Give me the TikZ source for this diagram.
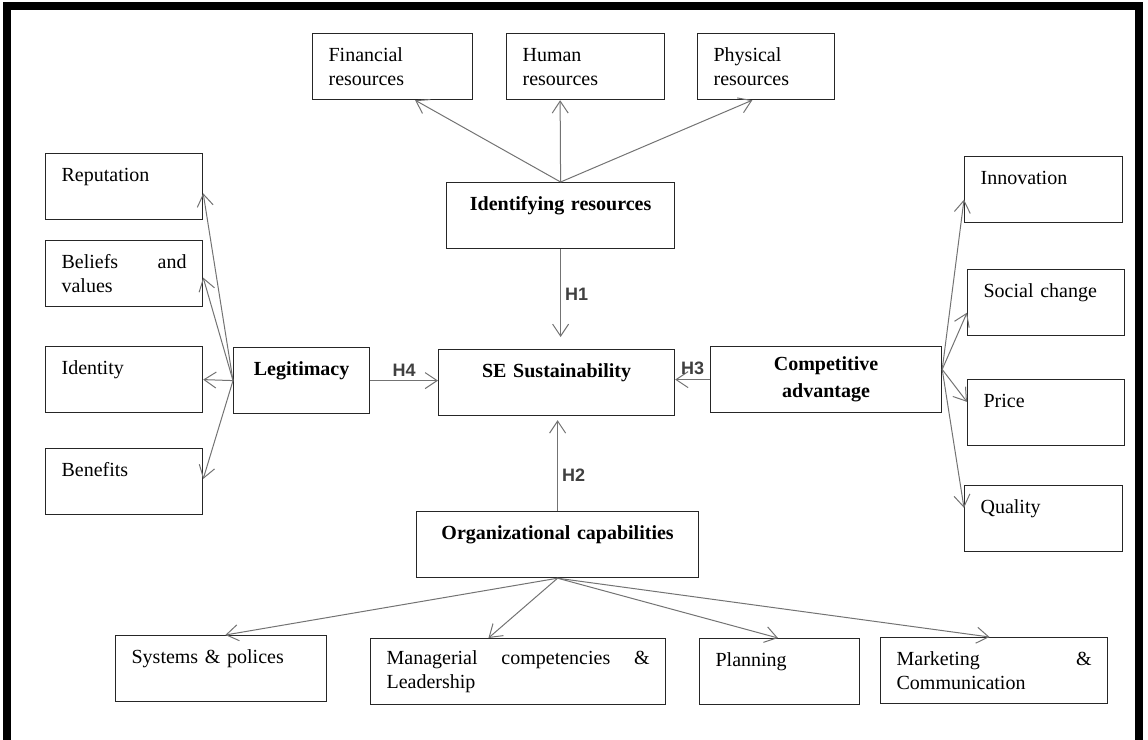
\documentclass[tikz,border=0pt]{standalone}
\usepackage{fontspec}
\setmainfont{Liberation Serif}
\newfontfamily\hypfont{Liberation Sans}
\usetikzlibrary{arrows.meta,calc}

\begin{document}
\begin{tikzpicture}[x=0.5pt, y=-0.5pt,
      box/.style = {draw=black!85, line width=0.6pt, anchor=north west,
        align=left, inner xsep=8pt, inner ysep=3pt, minimum height=33pt,
        text width=#1},
      main/.style = {box=#1, align=center, font=\bfseries},
      link/.style = {draw=black!55, line width=0.5pt,
        -{Straight Barb[length=6pt,width=8pt]}},
      hyp/.style = {font=\hypfont\bfseries\small, text=black!75, inner sep=2pt}]
  \useasboundingbox (0,0) rectangle (1148,740);
  \draw[line width=4pt, line join=miter] (7,740) |- (1139,6) -- (1139,740);

  % resources
  \node[box=64pt] (fin) at (312,33) {Financial\\resources};
  \node[box=63pt] (hum) at (506,33) {Human\\resources};
  \node[box=52.5pt] (phy) at (697,33) {Physical\\resources};
  \node[main=98pt] (idr) at (446,182) {Identifying resources\\~};

  % legitimacy side
  \node[box=62.5pt] (rep) at (45,153) {Reputation\\~};
  \node[box=62.5pt] (bel) at (45,240) {Beliefs\hfill and\\values};
  \node[box=62.5pt] (idt) at (45,346) {Identity\\~};
  \node[box=62.5pt] (ben) at (45,448) {Benefits\\~};
  \node[main=52pt] (leg) at (233,347) {Legitimacy\\~};

  \node[main=102pt] (sus) at (438,349) {SE Sustainability\\~};

  % competitive side
  \node[main=99.5pt] (com) at (710,346) {Competitive\\[1.5pt]advantage};
  \node[box=63pt] (inn) at (964,156) {Innovation\\~};
  \node[box=62.5pt] (soc) at (967,269) {Social change\\~};
  \node[box=62.5pt] (pri) at (967,379) {Price\\~};
  \node[box=63pt] (qua) at (964,485) {Quality\\~};

  % capabilities
  \node[main=125pt] (org) at (416,511) {Organizational capabilities\\~};
  \node[box=89.5pt] (sys) at (115,635) {Systems \& polices\\~};
  \node[box=131.5pt] (man) at (370,638) {Managerial\hfill competencies\hfill \&\\Leadership};
  \node[box=64pt] (pla) at (699,638) {Planning\\~};
  \node[box=97.5pt] (mar) at (880,637) {Marketing\hfill \&\\Communication};

  % hypotheses
  \draw[link, shorten >=6pt] (idr.south) -- (idr.south |- sus.north)
    node[hyp, pos=.45, right] (h1) {H1};
  \draw[link, shorten >=2pt] (org.north) -- (org.north |- sus.south)
    node[hyp, pos=.38, right] (h2) {H2};
  \draw[link] (com.west) -- (com.west -| sus.east)
    node[hyp, midway, above] (h3) {H3};
  \draw[link] (leg.east) -- (leg.east -| sus.west)
    node[hyp, midway, above] (h4) {H4};

  % fans
  \foreach \n/\f in {fin/.64, hum/.34, phy/.40}
    \draw[link] (idr.north) -- ($(\n.south west)!\f!(\n.south east)$);
  \foreach \n/\f in {rep/.6, bel/.56, idt/.5, ben/.46}
    \draw[link] (leg.west) -- ($(\n.north east)!\f!(\n.south east)$);
  \foreach \n/\f in {inn/.65, soc/.65, pri/.34, qua/.34}
    \draw[link] (com.5) -- ($(\n.north west)!\f!(\n.south west)$);
  \foreach \n/\f in {sys/.52, man/.40, pla/.49, mar/.48}
    \draw[link] (org.south) -- ($(\n.north west)!\f!(\n.north east)$);
\end{tikzpicture}
\end{document}
